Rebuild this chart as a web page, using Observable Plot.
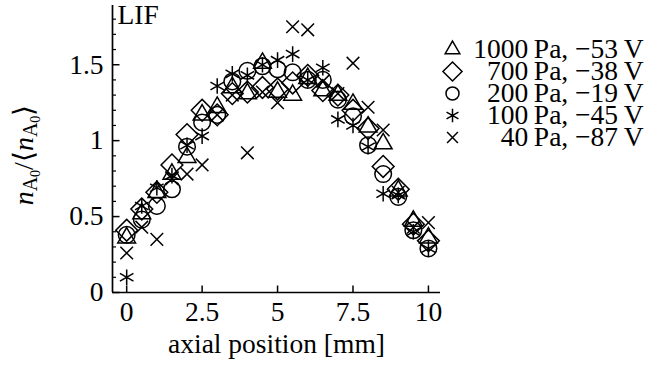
<!DOCTYPE html>
<html><head><meta charset="utf-8">
<script src="https://cdn.jsdelivr.net/npm/d3@7"></script>
<script src="https://cdn.jsdelivr.net/npm/@observablehq/plot@0.6"></script>
<style>
body{margin:0;background:#fff;}
#wrap{position:relative;width:650px;height:367px;overflow:hidden;}
#legend{position:absolute;left:440px;top:0;}
</style></head><body>
<div id="wrap"><div id="chart"></div><div id="legend"></div></div>
<script>
// ---- data ----
const positions = [0,0.5,1,1.5,2,2.5,3,3.5,4,4.5,5,5.5,6,6.5,7,7.5,8,8.5,9,9.5,10];
const p1000 = [0.36,0.52,0.66,0.78,0.89,1.17,1.22,1.35,1.31,1.51,1.32,1.30,1.41,1.33,1.30,1.24,1.09,0.98,0.67,0.47,0.36];
const p700  = [0.41,0.55,0.66,0.84,1.04,1.20,1.17,1.31,1.32,1.35,1.34,1.38,1.43,1.33,1.30,1.20,1.08,0.83,0.68,0.45,0.34];
const p200  = [0.38,0.48,0.57,0.68,0.96,1.12,1.17,1.39,1.46,1.49,1.47,1.45,1.40,1.40,1.27,1.16,0.97,0.78,0.63,0.41,0.29];
const p100  = [0.10,0.57,0.69,0.77,0.97,1.03,1.36,1.44,1.43,1.50,1.53,1.57,1.40,1.48,1.14,1.10,0.96,0.65,0.64,0.40,0.29];
const p40   = [0.26,0.43,0.35,0.75,0.78,0.84,1.17,1.30,0.92,1.32,1.25,1.75,1.73,1.39,1.31,1.51,1.22,1.07,0.66,0.43,0.46];
const seriesLabels = ["1000\u2009Pa, \u221253\u2009V","700\u2009Pa, \u221238\u2009V","200\u2009Pa, \u221219\u2009V","100\u2009Pa, \u221245\u2009V","40\u2009Pa, \u221287\u2009V"];
const xTicks = [0,2.5,5,7.5,10];
const xTickLabels = ["0","2.5","5","7.5","10"];
const yTicks = [0,0.5,1,1.5];
const yTickLabels = ["0","0.5","1","1.5"];
const xLabel = "axial position [mm]";
const panelLabel = "LIF";

// ---- styling ----
const FONT = "Liberation Serif";
const FS = 27.5;
const seriesValues = [p1000,p700,p200,p100,p40];
const symbolsList = ["triangle2","diamond2","circle","asterisk","times"];
const plotR = [8.5,9.8,8.3,7.4,5.8];
const legendR = [7.0,8.6,6.5,6.5,5.0];

const rows = [];
seriesValues.forEach((vals,s)=>vals.forEach((v,i)=>rows.push({x:positions[i], y:v, s})));

const xLab = new Map(xTicks.map((t,i)=>[t,xTickLabels[i]]));
const yLab = new Map(yTicks.map((t,i)=>[t,yTickLabels[i]]));
const yMinor = d3.range(1,19).map(k=>k/10).filter(v=>!yTicks.some(t=>Math.abs(t-v)<1e-9));

const tickUp = {draw(ctx){ctx.moveTo(0,0);ctx.lineTo(0,-7);}};
const tickRightMajor = {draw(ctx){ctx.moveTo(0,0);ctx.lineTo(7,0);}};
const tickRightMinor = {draw(ctx){ctx.moveTo(0,0);ctx.lineTo(3.5,0);}};

const xDomain = [-0.47, 10.4];
const chart = Plot.plot({
  width: 650, height: 367,
  marginLeft: 112, marginRight: 210, marginTop: 5, marginBottom: 75,
  style: {fontFamily: FONT, fontSize: FS+"px", background: "#fff"},
  x: {domain: xDomain},
  y: {domain: [0, 1.89]},
  marks: [
    Plot.ruleY([0], {stroke:"black", strokeWidth:1.7}),
    Plot.ruleX([xDomain[0]], {stroke:"black", strokeWidth:1.7}),
    Plot.dot(xTicks, {x:d=>d, frameAnchor:"bottom", symbol: tickUp, stroke:"black", fill:"none", strokeWidth:1.5}),
    Plot.dot(yTicks, {y:d=>d, frameAnchor:"left", symbol: tickRightMajor, stroke:"black", fill:"none", strokeWidth:1.5}),
    Plot.dot(yMinor, {y:d=>d, frameAnchor:"left", symbol: tickRightMinor, stroke:"black", fill:"none", strokeWidth:1.2}),
    Plot.axisX({ticks: xTicks, tickFormat: d=>xLab.get(d), tickSize: 0, tickPadding: 9, fontSize: FS, fontFamily: FONT, label: null}),
    Plot.axisY({ticks: yTicks, tickFormat: d=>yLab.get(d), tickSize: 0, tickPadding: 9, fontSize: FS, fontFamily: FONT, label: null}),
    Plot.text([xLabel], {frameAnchor:"bottom", dy: 60, fontSize: FS, fontFamily: FONT, fill:"black"}),
    Plot.text([panelLabel], {frameAnchor:"top-left", textAnchor:"start", lineAnchor:"top", dx: 5, dy: -1, fontSize: FS, fontFamily: FONT, fill:"black"}),
    ...symbolsList.map((sym,s)=>Plot.dot(rows.filter(d=>d.s===s), {x:"x", y:"y", symbol: sym, r: plotR[s], stroke:"black", fill:"none", strokeWidth:1.5}))
  ]
});
document.getElementById("chart").appendChild(chart);

// y label with subscripts
const svg = d3.select(chart);
const lab = svg.append("text")
  .attr("transform","translate(33,155) rotate(-90)")
  .attr("text-anchor","middle")
  .attr("font-family", FONT)
  .attr("font-size", 28)
  .attr("fill","black");
function addN(){
  lab.append("tspan").attr("font-style","italic").text("n");
  lab.append("tspan").attr("font-size",20).attr("dy",4).text("A");
  lab.append("tspan").attr("font-size",14).attr("dy",3).text("0");
}
addN();
lab.append("tspan").attr("dy",-7).text("/\u27E8");
addN();
lab.append("tspan").attr("dy",-7).text("\u27E9");

// legend
const legendRows = seriesLabels.map((label,s)=>({label, s}));
const legend = Plot.plot({
  width: 210, height: 180,
  margin: 0,
  style: {fontFamily: FONT, fontSize: FS+"px", background: "transparent"},
  y: {type:"point", domain: seriesLabels, range:[37,148], axis: null},
  marks: [
    ...symbolsList.map((sym,s)=>Plot.dot(legendRows.filter(d=>d.s===s), {y:"label", frameAnchor:"left", dx: 12, symbol: sym, r: legendR[s], stroke:"black", fill:"none", strokeWidth:1.5})),
    Plot.text(legendRows, {y:"label", text:"label", frameAnchor:"right", textAnchor:"end", dx:-7, fontSize: FS, fontFamily: FONT, fill:"black"})
  ]
});
document.getElementById("legend").appendChild(legend);
</script>
</body></html>
